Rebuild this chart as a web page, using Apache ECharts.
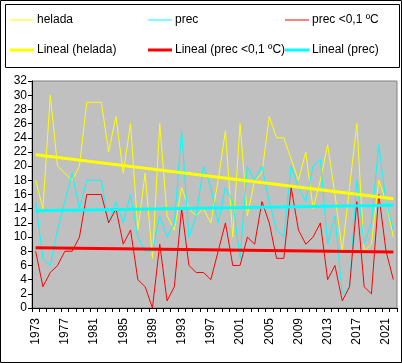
<!DOCTYPE html>
<html><head><meta charset="utf-8">
<script src="https://cdn.jsdelivr.net/npm/echarts@6/dist/echarts.min.js"></script>
<style>html,body{margin:0;padding:0;background:#fff}#c{width:402px;height:363px}</style>
</head><body><div id="c"></div>
<script>
const years = ['1973','1974','1975','1976','1977','1978','1979','1980','1981','1982',
  '1983','1984','1985','1986','1987','1988','1989','1990','1991','1992',
  '1993','1994','1995','1996','1997','1998','1999','2000','2001','2002',
  '2003','2004','2005','2006','2007','2008','2009','2010','2011','2012',
  '2013','2014','2015','2016','2017','2018','2019','2020','2021','2022'];
const helada = [18,14,30,20,19,18,20,29,29,29, 22,27,19,26,11,19,7,26,13,11,
  17,14,13,14,12,18,25,10,26,13, 18,19,27,24,24,21,18,22,14,18,
  23,16,8,17,26,8,9,18,15,10];
const prec = [15,7,6,11,15,19,14,18,18,18, 12,15,12,16,10,8,8,13,10,12,
  25,10,13,20,17,12,17,15,7,20, 18,20,15,11,10,20,17,15,20,21,
  9,13,2,3,18,9,12,23,15,11];
const precBajo = [8,3,5,6,8,8,10,16,16,16, 12,14,9,11,4,3,0,9,1,3,
  14,6,5,5,4,8,12,6,6,10, 9,15,12,7,7,17,11,9,10,12,
  4,6,1,3,15,3,2,16,8,4];
// trend line end values (first year, last year)
const trendHelada = [21.6, 15.4];
const trendPrec = [13.7, 14.5];
const trendPrecBajo = [8.5, 7.9];
const seriesNames = ['helada','prec','prec <0,1 ºC','Lineal (helada)','Lineal (prec <0,1 ºC)','Lineal (prec)'];

const FONT = '"Liberation Sans", Arial, sans-serif';
const chart = echarts.init(document.getElementById('c'), null, {renderer:'canvas'});
const last = years.length - 1;
function legendAt(name, left, top, h) {
  return {
    data: [name], left: left, top: top, padding: 0, itemWidth: 24, itemHeight: h,
    icon: 'rect', itemGap: 0, selectedMode: false,
    textStyle: {fontSize: 12, color: '#000', fontFamily: FONT, padding: [0,0,0,-2]}
  };
}
chart.setOption({
  animation: false,
  backgroundColor: '#fff',
  graphic: [
    {type:'rect', shape:{x:0.5,y:0.5,width:401,height:362}, style:{fill:'none', stroke:'#000', lineWidth:1}, z:-1},
    {type:'rect', shape:{x:5.5,y:4.5,width:394,height:63}, style:{fill:'none', stroke:'#000', lineWidth:1}, z:-1}
  ],
  legend: [
    legendAt(seriesNames[0], 10, 14, 1),
    legendAt(seriesNames[1], 148, 14, 1),
    legendAt(seriesNames[2], 285, 14, 1),
    legendAt(seriesNames[3], 10, 44, 3),
    legendAt(seriesNames[4], 148, 44, 3),
    legendAt(seriesNames[5], 285, 44, 3)
  ],
  grid: {left: 32, right: 5, top: 81, bottom: 55, show: true, backgroundColor: '#C0C0C0', borderColor: '#808080', borderWidth: 1},
  xAxis: {
    type: 'category', data: years, boundaryGap: true,
    axisLine: {lineStyle: {color: '#000', width: 1}},
    axisTick: {show: true, interval: 0, length: 4, lineStyle: {color: '#000'}},
    axisLabel: {interval: 3, rotate: 90, margin: 10, fontSize: 12, color: '#000', fontFamily: FONT},
    splitLine: {show: false}
  },
  yAxis: {
    type: 'value', min: 0, max: 32, interval: 2,
    axisLine: {show: true, lineStyle: {color: '#000', width: 1}},
    axisTick: {show: true, length: 4, lineStyle: {color: '#000'}},
    axisLabel: {fontSize: 12, color: '#000', fontFamily: FONT, margin: 5},
    splitLine: {show: false}
  },
  series: [
    {name: seriesNames[0], type: 'line', data: helada, symbol: 'none', color: '#FFFF00', lineStyle: {width: 1, color: '#FFFF00'}, z: 2},
    {name: seriesNames[1], type: 'line', data: prec, symbol: 'none', color: '#00FFFF', lineStyle: {width: 1, color: '#00FFFF'}, z: 2},
    {name: seriesNames[2], type: 'line', data: precBajo, symbol: 'none', color: '#FF0000', lineStyle: {width: 1, color: '#FF0000'}, z: 2},
    {name: seriesNames[3], type: 'line', data: [[years[0], trendHelada[0]], [years[last], trendHelada[1]]], symbol: 'none', color: '#FFFF00', lineStyle: {width: 3, color: '#FFFF00'}, z: 3},
    {name: seriesNames[4], type: 'line', data: [[years[0], trendPrecBajo[0]], [years[last], trendPrecBajo[1]]], symbol: 'none', color: '#FF0000', lineStyle: {width: 3, color: '#FF0000'}, z: 3},
    {name: seriesNames[5], type: 'line', data: [[years[0], trendPrec[0]], [years[last], trendPrec[1]]], symbol: 'none', color: '#00FFFF', lineStyle: {width: 3, color: '#00FFFF'}, z: 3}
  ]
});
</script></body></html>
